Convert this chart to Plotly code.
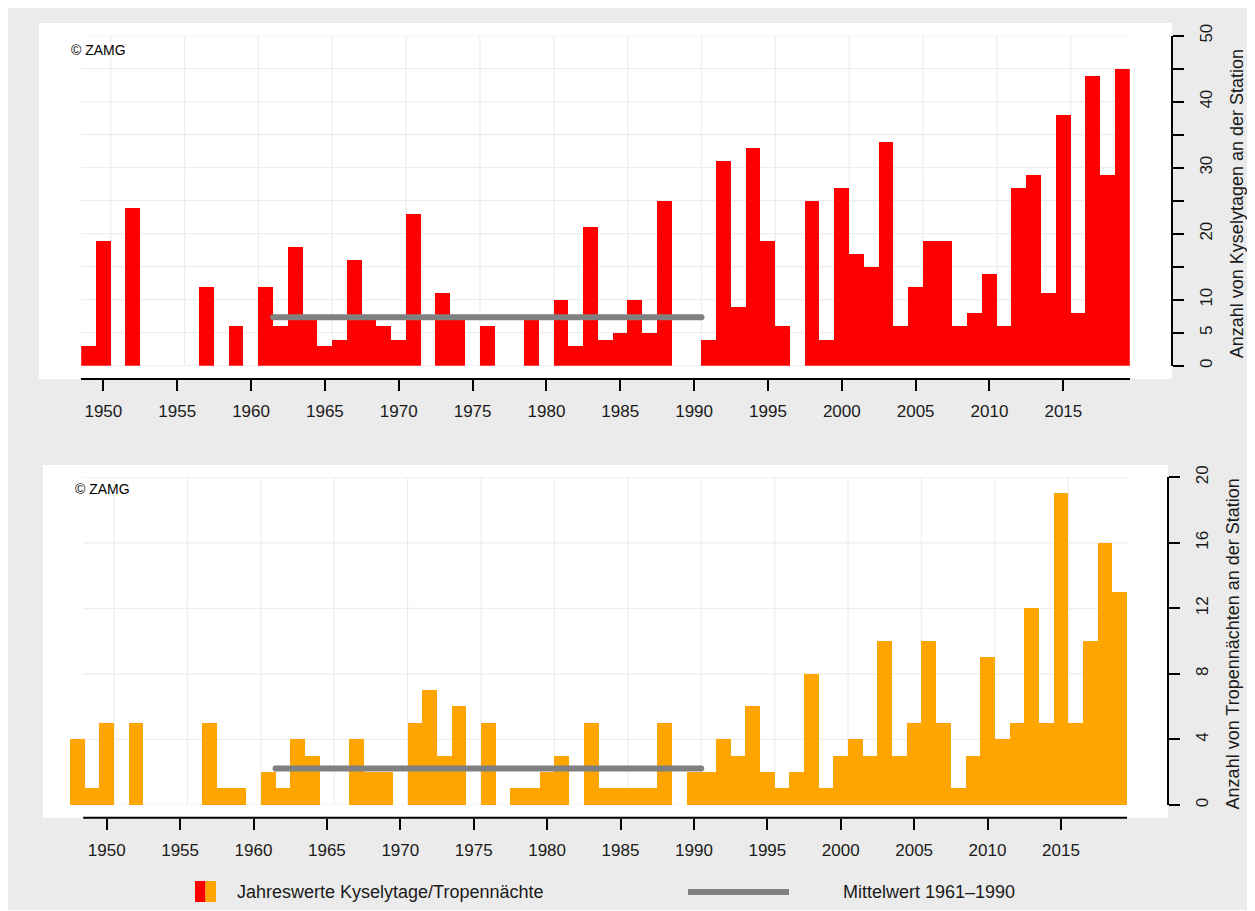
import plotly.graph_objects as go

# ---------------- data ----------------
kysely_years = list(range(1949, 2020))
kysely_values = [3, 19, 0, 24, 0, 0, 0, 0, 12, 0, 6, 0,          # 1949-1960
                 12, 6, 18, 7, 3, 4, 16, 7, 6, 4,                # 1961-1970
                 23, 0, 11, 7, 0, 6, 0, 0, 7, 0,                 # 1971-1980
                 10, 3, 21, 4, 5, 10, 5, 25, 0, 0,               # 1981-1990
                 4, 31, 9, 33, 19, 6, 0, 25, 4, 27,              # 1991-2000
                 17, 15, 34, 6, 12, 19, 19, 6, 8, 14,            # 2001-2010
                 6, 27, 29, 11, 38, 8, 44, 29, 45]               # 2011-2019

tropen_years = list(range(1948, 2020))
tropen_values = [4, 1, 5, 0, 5, 0, 0, 0, 0, 5, 1, 1, 0,          # 1948-1960
                 2, 1, 4, 3, 0, 0, 4, 2, 2, 0,                   # 1961-1970
                 5, 7, 3, 6, 0, 5, 0, 1, 1, 2,                   # 1971-1980
                 3, 0, 5, 1, 1, 1, 1, 5, 0, 2,                   # 1981-1990
                 2, 4, 3, 6, 2, 1, 2, 8, 1, 3,                   # 1991-2000
                 4, 3, 10, 3, 5, 10, 5, 1, 3, 9,                 # 2001-2010
                 4, 5, 12, 5, 19, 5, 10, 16, 13]                 # 2011-2019

ref_start, ref_end = 1961, 1990
mean_x = [1961.5, 1990.5]

x_tick_years = list(range(1950, 2016, 5))
x_grid_years = [y + 0.5 for y in x_tick_years]

top_yticks = list(range(0, 51, 5))
top_yticktext = ["0", "5", "10", "", "20", "", "30", "", "40", "", "50"]
bot_yticks = list(range(0, 21, 4))

title_top = "Anzahl von Kyselytagen an der Station"
title_bot = "Anzahl von Tropennächten an der Station"
title_line2 = "Eisenstadt"
legend_bars = "Jahreswerte Kyselytage/Tropennächte"
legend_mean = "Mittelwert 1961\u20131990"
copyright_txt = "© ZAMG"

# ---------------- helpers ----------------
OFF = 8                     # page offset of the figure (body margin)
W, H = 1247, 902            # figure size
FONT = "Arial, Liberation Sans, sans-serif"
RED = "#ff0000"
ORANGE = "#ffa500"
GRAY_LINE = "#808080"
BG = "#ebebeb"
GRID = "#ededed"


def px(x):
    """page pixel x -> paper fraction"""
    return (x - OFF) / W


def py(y):
    """page pixel y -> paper fraction"""
    return 1 - (y - OFF) / H


def ref_mean(years, values):
    sel = [v for y, v in zip(years, values) if ref_start <= y <= ref_end]
    return sum(sel) / len(sel)


kysely_mean = ref_mean(kysely_years, kysely_values)
tropen_mean = ref_mean(tropen_years, tropen_values)

fig = go.Figure()

fig.add_trace(go.Bar(x=kysely_years, y=kysely_values, width=1.0,
                     marker=dict(color=RED, line=dict(width=0)),
                     xaxis="x", yaxis="y", showlegend=False))
fig.add_trace(go.Scatter(x=mean_x, y=[kysely_mean] * 2, mode="lines+markers",
                         line=dict(color=GRAY_LINE, width=6),
                         marker=dict(color=GRAY_LINE, size=6),
                         xaxis="x", yaxis="y", showlegend=False))

fig.add_trace(go.Bar(x=tropen_years, y=tropen_values, width=1.0,
                     marker=dict(color=ORANGE, line=dict(width=0)),
                     xaxis="x2", yaxis="y2", showlegend=False))
fig.add_trace(go.Scatter(x=mean_x, y=[tropen_mean] * 2, mode="lines+markers",
                         line=dict(color=GRAY_LINE, width=6),
                         marker=dict(color=GRAY_LINE, size=6),
                         xaxis="x2", yaxis="y2", showlegend=False))

tickfont = dict(family=FONT, size=17, color="#1a1a1a")

xcommon = dict(showgrid=False, zeroline=False, showline=True, linecolor="black",
               linewidth=2, ticks="outside", ticklen=11, tickwidth=2,
               tickcolor="black", tickvals=x_tick_years, tickfont=tickfont,
               anchor="free", fixedrange=True, automargin=False,
               ticklabelstandoff=6)
ycommon = dict(showgrid=False, zeroline=False, showline=True, linecolor="black",
               linewidth=2, ticks="outside", ticklen=11, tickwidth=2,
               tickcolor="black", tickangle=-90, tickfont=tickfont,
               side="right", anchor="free", fixedrange=True, automargin=False,
               ticklabelstandoff=7)

# panel geometry (page pixels)
top_x0, top_x1 = 81.2, 1129.8          # 1948.5 .. 2019.5
top_y0, top_y1 = 365.7, 35.7           # value 0 .. 50
bot_x0, bot_x1 = 70.0, 1127.0          # 1947.5 .. 2019.5
bot_y0, bot_y1 = 805.0, 477.3          # value 0 .. 20

fig.update_layout(
    template="none",
    width=W, height=H, autosize=False,
    margin=dict(l=0, r=0, t=0, b=0, pad=0, autoexpand=False),
    paper_bgcolor=BG, plot_bgcolor="rgba(0,0,0,0)",
    bargap=0, barmode="overlay", showlegend=False,
    font=dict(family=FONT),
    xaxis=dict(xcommon, domain=[px(top_x0), px(top_x1)], range=[1948.5, 2019.5],
               position=py(378.7)),
    yaxis=dict(ycommon, domain=[py(top_y0), py(top_y1)], range=[0, 50],
               position=px(1172.3), tickvals=top_yticks, ticktext=top_yticktext),
    xaxis2=dict(xcommon, domain=[px(bot_x0), px(bot_x1)], range=[1947.5, 2019.5],
                position=py(817.7), showline=False),
    yaxis2=dict(ycommon, domain=[py(bot_y0), py(bot_y1)], range=[0, 20],
                position=px(1168.3), tickvals=bot_yticks),
)

shapes = []
# white panels
shapes.append(dict(type="rect", xref="paper", yref="paper", x0=px(39), x1=px(1172),
                   y0=py(379), y1=py(23), fillcolor="white", line=dict(width=0), layer="below"))
shapes.append(dict(type="rect", xref="paper", yref="paper", x0=px(43), x1=px(1168),
                   y0=py(818), y1=py(465), fillcolor="white", line=dict(width=0), layer="below"))
# gridlines top
for g in x_grid_years:
    shapes.append(dict(type="line", xref="x", yref="y", x0=g, x1=g, y0=0, y1=50,
                       line=dict(color=GRID, width=1.2), layer="below"))
for v in top_yticks:
    shapes.append(dict(type="line", xref="x", yref="y", x0=1948.5, x1=2019.5, y0=v, y1=v,
                       line=dict(color=GRID, width=1.2), layer="below"))
# gridlines bottom
for g in x_grid_years:
    shapes.append(dict(type="line", xref="x2", yref="y2", x0=g, x1=g, y0=0, y1=20,
                       line=dict(color=GRID, width=1.2), layer="below"))
for v in bot_yticks:
    shapes.append(dict(type="line", xref="x2", yref="y2", x0=1948.4, x1=2019.5, y0=v, y1=v,
                       line=dict(color=GRID, width=1.2), layer="below"))
# bottom x axis line
shapes.append(dict(type="line", xref="x2", yref="paper", x0=1948.4, x1=2019.5,
                   y0=py(817.7), y1=py(817.7), line=dict(color="black", width=2)))
# legend symbols
shapes.append(dict(type="rect", xref="paper", yref="paper", x0=px(195), x1=px(205.5),
                   y0=py(902), y1=py(881), fillcolor=RED, line=dict(width=0)))
shapes.append(dict(type="rect", xref="paper", yref="paper", x0=px(205.5), x1=px(216),
                   y0=py(902), y1=py(881), fillcolor=ORANGE, line=dict(width=0)))
shapes.append(dict(type="line", xref="paper", yref="paper", x0=px(688), x1=px(789),
                   y0=py(892), y1=py(892), line=dict(color=GRAY_LINE, width=6)))
fig.update_layout(shapes=shapes)

ann = []
ann.append(dict(text=copyright_txt, xref="paper", yref="paper", x=px(69), y=py(50),
                xanchor="left", yanchor="middle", showarrow=False,
                font=dict(family=FONT, size=14, color="black")))
ann.append(dict(text=copyright_txt, xref="paper", yref="paper", x=px(72.5), y=py(489),
                xanchor="left", yanchor="middle", showarrow=False,
                font=dict(family=FONT, size=14, color="black")))
for txt, xc, yc in [(title_top, 1236.7, 203.5), (title_line2, 1258.7, 203.5),
                    (title_bot, 1232.7, 643.7), (title_line2, 1254.7, 643.7)]:
    ann.append(dict(text=txt, xref="paper", yref="paper", x=px(xc), y=py(yc),
                    xanchor="center", yanchor="middle", textangle=-90, showarrow=False,
                    font=dict(family=FONT, size=18, color="#1a1a1a")))
ann.append(dict(text=legend_bars, xref="paper", yref="paper", x=px(235), y=py(892),
                xanchor="left", yanchor="middle", showarrow=False,
                font=dict(family=FONT, size=18, color="#1a1a1a")))
ann.append(dict(text=legend_mean, xref="paper", yref="paper", x=px(841), y=py(892),
                xanchor="left", yanchor="middle", showarrow=False,
                font=dict(family=FONT, size=18, color="#1a1a1a")))
fig.update_layout(annotations=ann)

fig.write_html("out.html")
